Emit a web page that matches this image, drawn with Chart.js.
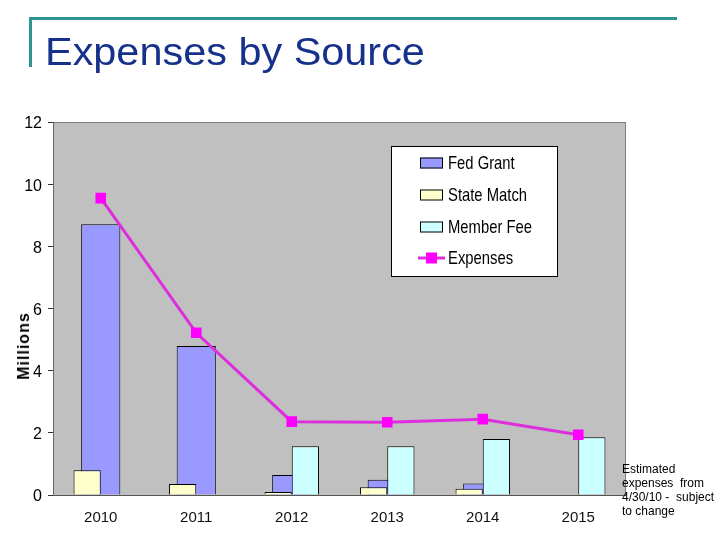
<!DOCTYPE html>
<html>
<head>
<meta charset="utf-8">
<script src="https://cdn.jsdelivr.net/npm/chart.js@4/dist/chart.umd.min.js"></script>
<style>
  html, body { margin: 0; padding: 0; background: #ffffff; }
  #wrap { position: relative; width: 720px; height: 540px; overflow: hidden; }
  #c { position: absolute; left: 0; top: 0; }
  #frameTop { position: absolute; left: 29px; top: 17px; width: 648px; height: 3px; background: #2e9393; }
  #frameLeft { position: absolute; left: 29px; top: 17px; width: 3px; height: 50px; background: #2e9393; }
  #title { position: absolute; left: 45px; top: 33px; font-family: "Liberation Sans", Arial, sans-serif; font-size: 38px; line-height: 38px; color: #15318c; white-space: nowrap; transform: scaleX(1.09); transform-origin: 0 0; }
  #ylab { position: absolute; left: 24px; top: 346px; transform: translate(-50%, -50%) rotate(-90deg); font-family: "Liberation Sans", Arial, sans-serif; font-weight: bold; font-size: 16px; letter-spacing: 1px; color: #000; white-space: nowrap; }
  #note { position: absolute; left: 622px; top: 462px; font-family: "Liberation Sans", Arial, sans-serif; font-size: 12px; line-height: 14px; color: #000; white-space: pre; }
</style>
</head>
<body>
<div id="wrap">
  <canvas id="c" width="720" height="540"></canvas>
  <div id="frameTop"></div>
  <div id="frameLeft"></div>
  <div id="title">Expenses by Source</div>
  <div id="ylab">Millions</div>
  <div id="note">Estimated
expenses  from
4/30/10 -  subject
to change</div>
</div>
<script>
// ---- data (millions) ----
const years = ['2010', '2011', '2012', '2013', '2014', '2015'];
const fedGrant = [8.71, 4.79, 0.64, 0.49, 0.37, 0];
const stateMatch = [0.80, 0.35, 0.10, 0.25, 0.20, 0];
const memberFee = [0, 0, 1.57, 1.57, 1.80, 1.86];
const expenses = [9.55, 5.22, 2.36, 2.34, 2.44, 1.94];
const seriesNames = ['Fed Grant', 'State Match', 'Member Fee', 'Expenses'];
const yTicks = [0, 2, 4, 6, 8, 10, 12];

const regular = '"Liberation Sans", Arial, sans-serif';

const plotBg = {
  id: 'plotBg',
  beforeDraw(chart) {
    const a = chart.chartArea, ctx = chart.ctx;
    ctx.save();
    ctx.fillStyle = '#c0c0c0';
    ctx.fillRect(a.left, a.top, a.right - a.left, a.bottom - a.top);
    ctx.strokeStyle = '#808080';
    ctx.lineWidth = 1;
    ctx.strokeRect(a.left + 0.5, a.top + 0.5, a.right - a.left - 1, a.bottom - a.top);
    ctx.restore();
  }
};

const boxLegend = {
  id: 'boxLegend',
  afterDraw(chart) {
    const a = chart.chartArea, ctx = chart.ctx;
    const bx = a.left + 338, by = a.top + 24, bw = 167, bh = 131;
    ctx.save();
    ctx.fillStyle = '#ffffff';
    ctx.fillRect(bx, by, bw, bh);
    ctx.strokeStyle = '#000000';
    ctx.lineWidth = 1;
    ctx.strokeRect(bx + 0.5, by + 0.5, bw - 1, bh - 1);
    const rowY = [17, 49, 81, 112];
    const sx = bx + 29, sw = 23, sh = 11, tx = bx + 57;
    chart.data.datasets.forEach((ds, i) => {
      const cy = by + rowY[i];
      if (ds.type === 'line') {
        ctx.strokeStyle = ds.borderColor;
        ctx.lineWidth = 3;
        ctx.beginPath();
        ctx.moveTo(sx - 2, cy);
        ctx.lineTo(sx + sw + 2, cy);
        ctx.stroke();
        ctx.fillStyle = ds.pointBackgroundColor;
        ctx.fillRect(sx + sw / 2 - 5.5, cy - 5.5, 11, 11);
      } else {
        ctx.fillStyle = ds.backgroundColor;
        ctx.fillRect(sx, cy - sh / 2, sw, sh);
        ctx.strokeStyle = '#000000';
        ctx.lineWidth = 1;
        ctx.strokeRect(sx + 0.5, cy - sh / 2 + 0.5, sw - 1, sh - 1);
      }
      ctx.save();
      ctx.translate(tx, cy + 1);
      ctx.scale(0.78, 1);
      ctx.font = '19px ' + regular;
      ctx.textBaseline = 'middle';
      ctx.textAlign = 'left';
      ctx.fillStyle = '#000000';
      ctx.fillText(ds.label, 0, 0);
      ctx.restore();
    });
    ctx.restore();
  }
};

new Chart(document.getElementById('c'), {
  data: {
    labels: years,
    datasets: [
      {
        type: 'bar', label: seriesNames[0], data: fedGrant,
        backgroundColor: '#9999ff', borderColor: '#000000', borderWidth: 1,
        grouped: false, barPercentage: 0.41, categoryPercentage: 1, order: 3
      },
      {
        type: 'bar', label: seriesNames[1], data: stateMatch,
        backgroundColor: '#ffffcc', borderColor: '#000000', borderWidth: 1,
        barPercentage: 1, categoryPercentage: 0.57, order: 2
      },
      {
        type: 'bar', label: seriesNames[2], data: memberFee,
        backgroundColor: '#ccffff', borderColor: '#000000', borderWidth: 1,
        barPercentage: 1, categoryPercentage: 0.57, order: 2
      },
      {
        type: 'line', label: seriesNames[3], data: expenses,
        borderColor: '#dd2edd', borderWidth: 3,
        pointStyle: 'rect', pointRadius: 7.5, pointHoverRadius: 7.5,
        pointBackgroundColor: '#ff00ff', pointBorderColor: '#ff00ff', pointBorderWidth: 0,
        tension: 0, order: 0
      }
    ]
  },
  options: {
    responsive: false,
    animation: false,
    events: [],
    layout: { padding: { top: 122, right: 94, left: 0, bottom: 0 } },
    plugins: { legend: { display: false }, tooltip: { enabled: false }, title: { display: false } },
    scales: {
      x: {
        offset: true,
        grid: { display: false },
        border: { display: true, color: '#555555', width: 1 },
        ticks: { color: '#111111', font: { family: regular, size: 15 }, padding: 6, maxRotation: 0 },
        afterFit(s) { s.height = 45; }
      },
      y: {
        min: 0, max: 12,
        afterBuildTicks(s) { s.ticks = yTicks.map(v => ({ value: v })); },
        grid: { drawOnChartArea: false, drawTicks: true, tickLength: 5, color: '#333333' },
        border: { display: true, color: '#666666', width: 1 },
        ticks: { color: '#000000', font: { family: regular, size: 16 }, padding: 6, labelOffset: 2 },
        afterFit(s) { s.width = 53; }
      }
    }
  },
  plugins: [plotBg, boxLegend]
});
</script>
</body>
</html>
